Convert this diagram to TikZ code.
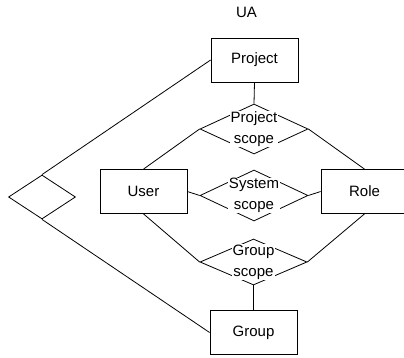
\documentclass[tikz,border=0pt]{standalone}
\usepackage{fontspec}
\setmainfont{Liberation Sans}
\usetikzlibrary{shapes.geometric}
\begin{document}
\begin{tikzpicture}[x=1pt,y=-1pt,
  every node/.style={font=\fontsize{15}{21}\selectfont},
  link/.style={line width=0.8pt},
  entity/.style={draw, line width=0.8pt, minimum width=87pt, minimum height=44pt, inner sep=0pt},
  rel/.style={draw, diamond, line width=0.8pt, inner sep=0pt, minimum width=108pt, minimum height=50pt},
  lbl/.style={fill=white, inner sep=0.5pt, align=center}]
  \clip (0,0) rectangle (404,358);
  \fill[white] (0,0) rectangle (404,358);

  % title
  \node (title) at (246.5,12) {UA};

  % entities
  \node[entity] (project) at (254.5,60) {Project};
  \node[entity] (user) at (143.5,191.5) {User};
  \node[entity] (role) at (364.5,191.5) {Role};
  \node[entity] (group) at (253.5,332.5) {Group};

  % relationships
  \node[rel] (ps) at (254,129) {};
  \node[rel, minimum height=51pt] (ss) at (254,195.5) {};
  \node[rel, minimum width=107pt, minimum height=46pt] (gs) at (253.5,262) {};
  \node[rel, minimum width=67pt, minimum height=44pt] (ld) at (42,197) {};

  % connectors
  \draw[link] (project.south) -- (ps.north);
  \draw[link] (user.north) -- (ps.west);
  \draw[link] (role.north) -- (ps.east);
  \draw[link] (user.east) -- (ss.west);
  \draw[link] (ss.east) -- (role.west);
  \draw[link] (user.south) -- (gs.west);
  \draw[link] (role.south) -- (gs.east);
  \draw[link] (gs.south) -- (group.north);
  \draw[link] (project.west) -- (ld.north);
  \draw[link] (ld.south) -- (group.west);

  % relationship names
  \node[lbl] (pslbl) at (ps) {Project\\scope};
  \node[lbl] (sslbl) at (ss) {System\\scope};
  \node[lbl] (gslbl) at (gs) {Group\\scope};
\end{tikzpicture}
\end{document}
